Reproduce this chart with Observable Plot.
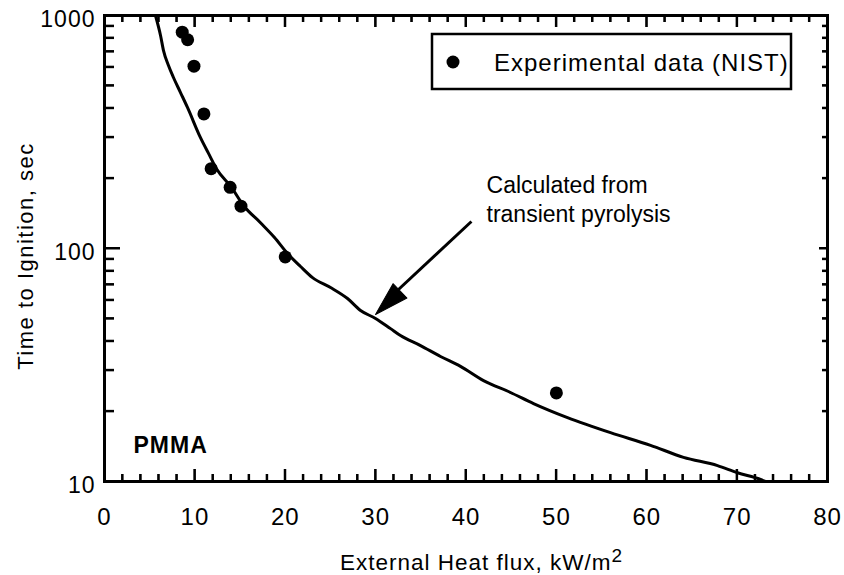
<!DOCTYPE html>
<html>
<head>
<meta charset="utf-8">
<script src="https://cdn.jsdelivr.net/npm/d3@7"></script>
<script src="https://cdn.jsdelivr.net/npm/@observablehq/plot@0.6"></script>
</head>
<body style="margin:0">
<div id="chart"></div>
<script>
// ---- data ----
const expFlux = [8.6, 9.2, 9.9, 11.0, 11.8, 13.9, 15.1, 20.0, 50.0];
const expTime = [848, 787, 606, 378, 220, 183, 152, 92, 24];

const calcFlux = [5.64, 6.20, 6.53, 7.08, 7.63, 8.41, 9.18, 10.62, 11.51, 12.39, 14.05, 15.38, 17.26, 18.81, 20.25, 21.69, 23.02, 25.01, 26.89, 28.33, 29.99, 31.65, 32.75, 34.97, 37.18, 39.39, 41.94, 44.92, 47.47, 51.23, 55.99, 60.42, 64.07, 67.83, 70.04, 72.59, 73.14];
const calcTime = [1000, 821, 707, 610, 542, 467, 403, 299, 256, 220, 183, 153, 129, 111.5, 95.2, 83.7, 75.0, 68.0, 61.0, 54.2, 50.1, 45.3, 42.3, 38.3, 34.4, 31.2, 27.1, 24.1, 21.6, 18.8, 16.2, 14.3, 12.7, 11.7, 10.9, 10.2, 10.0];

const xTicks = [0, 10, 20, 30, 40, 50, 60, 70, 80];
const xMinorTicks = [2,4,6,8,12,14,16,18,22,24,26,28,32,34,36,38,42,44,46,48,52,54,56,58,62,64,66,68,72,74,76,78];
const yTicks = [10, 100, 1000];
const yMinorTicks = [20,30,40,50,60,70,80,90,200,300,400,500,600,700,800,900];

const xLabel = "External Heat flux, kW/m";
const xLabelSup = "2";
const yLabel = "Time to Ignition, sec";
const legendLabel = "Experimental data (NIST)";
const annotLines = ["Calculated from", "transient pyrolysis"];
const annotPos = [42.27, 211.7];
const arrowStart = [40.6, 130.6];
const arrowBase = [32.53, 66.7];
const arrowTip = [29.99, 52.1];
const materialLabel = "PMMA";
const materialPos = [3.21, 13.3];

// ---- build ----
const exp = expFlux.map((x, i) => ({x, y: expTime[i]}));
const calc = calcFlux.map((x, i) => ({x, y: calcTime[i]}));

const headShape = {draw(ctx, l) { ctx.moveTo(0, -l); ctx.lineTo(-10, 0); ctx.lineTo(10, 0); ctx.closePath(); }};

const W = 844, H = 575, ML = 104, MR = 17, MT = 15, MB = 94;
const FW = W - ML - MR, FH = H - MT - MB;

const tx = (data, side, len) => Plot.tickX(data, {x: d => d, stroke: "black", strokeWidth: 2,
  insetTop: side === "bottom" ? FH - len : 0, insetBottom: side === "top" ? FH - len : 0});
const ty = (data, side, len) => Plot.tickY(data, {y: d => d, stroke: "black", strokeWidth: 2,
  insetRight: side === "left" ? FW - len : 0, insetLeft: side === "right" ? FW - len : 0});

const FONT = "'Liberation Sans', Arial, Helvetica, sans-serif";

const svg = Plot.plot({
  width: W,
  height: H,
  marginLeft: ML,
  marginRight: MR,
  marginTop: MT,
  marginBottom: MB,
  style: {fontFamily: FONT, fontSize: "22px", background: "#fff", color: "black"},
  x: {domain: [0, 80]},
  y: {type: "log", domain: [10, 1000]},
  marks: [
    Plot.frame({stroke: "black", strokeWidth: 3}),
    Plot.axisX({ticks: xTicks, tickSize: 0, tickPadding: 26, label: null, fontSize: 24}),
    Plot.axisY({ticks: yTicks, tickSize: 0, tickPadding: 9, tickFormat: d => String(d), label: null, fontSize: 23, dy: 4}),
    tx(xTicks, "bottom", 12),
    tx(xMinorTicks, "bottom", 7),
    tx(xTicks, "top", 12),
    tx(xMinorTicks, "top", 7),
    ty(yTicks, "left", 16),
    ty(yMinorTicks, "left", 10),
    ty(yTicks, "right", 8),
    ty(yMinorTicks, "right", 5),
    Plot.line(calc, {x: "x", y: "y", stroke: "black", strokeWidth: 3, curve: "monotone-x", clip: true}),
    Plot.dot(exp, {x: "x", y: "y", r: 6.5, fill: "black"}),
    Plot.link([{x1: arrowStart[0], y1: arrowStart[1], x2: arrowBase[0], y2: arrowBase[1]}], {x1: "x1", y1: "y1", x2: "x2", y2: "y2", stroke: "black", strokeWidth: 3}),
    Plot.vector([{x: arrowTip[0], y: arrowTip[1]}], {x: "x", y: "y", rotate: 226, length: 34, anchor: "end", shape: headShape, fill: "black", stroke: "black", strokeWidth: 1}),
    Plot.text([{x: annotPos[0], y: annotPos[1], t: annotLines.join("\n")}], {x: "x", y: "y", text: "t", textAnchor: "start", lineAnchor: "top", fontSize: 23, lineHeight: 1.26, fill: "black"}),
    Plot.text([{x: materialPos[0], y: materialPos[1], t: materialLabel}], {x: "x", y: "y", text: "t", textAnchor: "start", lineAnchor: "bottom", fontSize: 23, fontWeight: "bold", fill: "black"})
  ]
});

const s = d3.select(svg);
s.selectAll('g[aria-label="x-axis tick label"], g[aria-label="y-axis tick label"]').attr("letter-spacing", "1px");
s.selectAll("text").filter(function() { return this.textContent === materialLabel; }).attr("letter-spacing", "1px");

// inward ticks placed through the plot's own scales (drawn on top, coinciding with the tick marks above)
const sx = svg.scale("x"), sy = svg.scale("y");
const L = ML, R = W - MR, T = MT, B = H - MB;
const tg = s.append("g").attr("stroke", "black").attr("stroke-width", 2).attr("fill", "none");
const addX = (vals, len) => vals.forEach(v => {
  const px = sx.apply(v);
  tg.append("line").attr("x1", px).attr("x2", px).attr("y1", B).attr("y2", B - len);
  tg.append("line").attr("x1", px).attr("x2", px).attr("y1", T).attr("y2", T + len);
});
const addY = (vals, lenL, lenR) => vals.forEach(v => {
  const py = sy.apply(v);
  tg.append("line").attr("x1", L).attr("x2", L + lenL).attr("y1", py).attr("y2", py);
  tg.append("line").attr("x1", R).attr("x2", R - lenR).attr("y1", py).attr("y2", py);
});
addX(xTicks, 12);
addX(xMinorTicks, 7);
addY(yTicks, 16, 8);
addY(yMinorTicks, 10, 5);

// legend box
const lg = s.append("g").attr("font-family", FONT).attr("text-anchor", "start");
lg.append("rect").attr("x", 432).attr("y", 34).attr("width", 359).attr("height", 55)
  .attr("fill", "white").attr("stroke", "black").attr("stroke-width", 2.5);
lg.append("circle").attr("cx", 453).attr("cy", 62).attr("r", 6.5).attr("fill", "black");
lg.append("text").attr("x", 494).attr("y", 71).attr("font-size", 24).attr("letter-spacing", "1px").attr("fill", "black").text(legendLabel);

// x axis label with superscript
const xl = s.append("text").attr("x", 340).attr("y", 570).attr("font-size", 22.5).attr("text-anchor", "start")
  .attr("letter-spacing", "1px").attr("font-family", FONT).attr("fill", "black");
xl.append("tspan").text(xLabel);
xl.append("tspan").attr("dy", -8).attr("font-size", 19).text(xLabelSup);

// y axis label
s.append("text").attr("transform", "translate(33,256) rotate(-90)").attr("text-anchor", "middle")
  .attr("font-size", 22).attr("letter-spacing", "1.5px").attr("font-family", FONT).attr("fill", "black").text(yLabel);

document.getElementById("chart").appendChild(svg);
</script>
</body>
</html>
